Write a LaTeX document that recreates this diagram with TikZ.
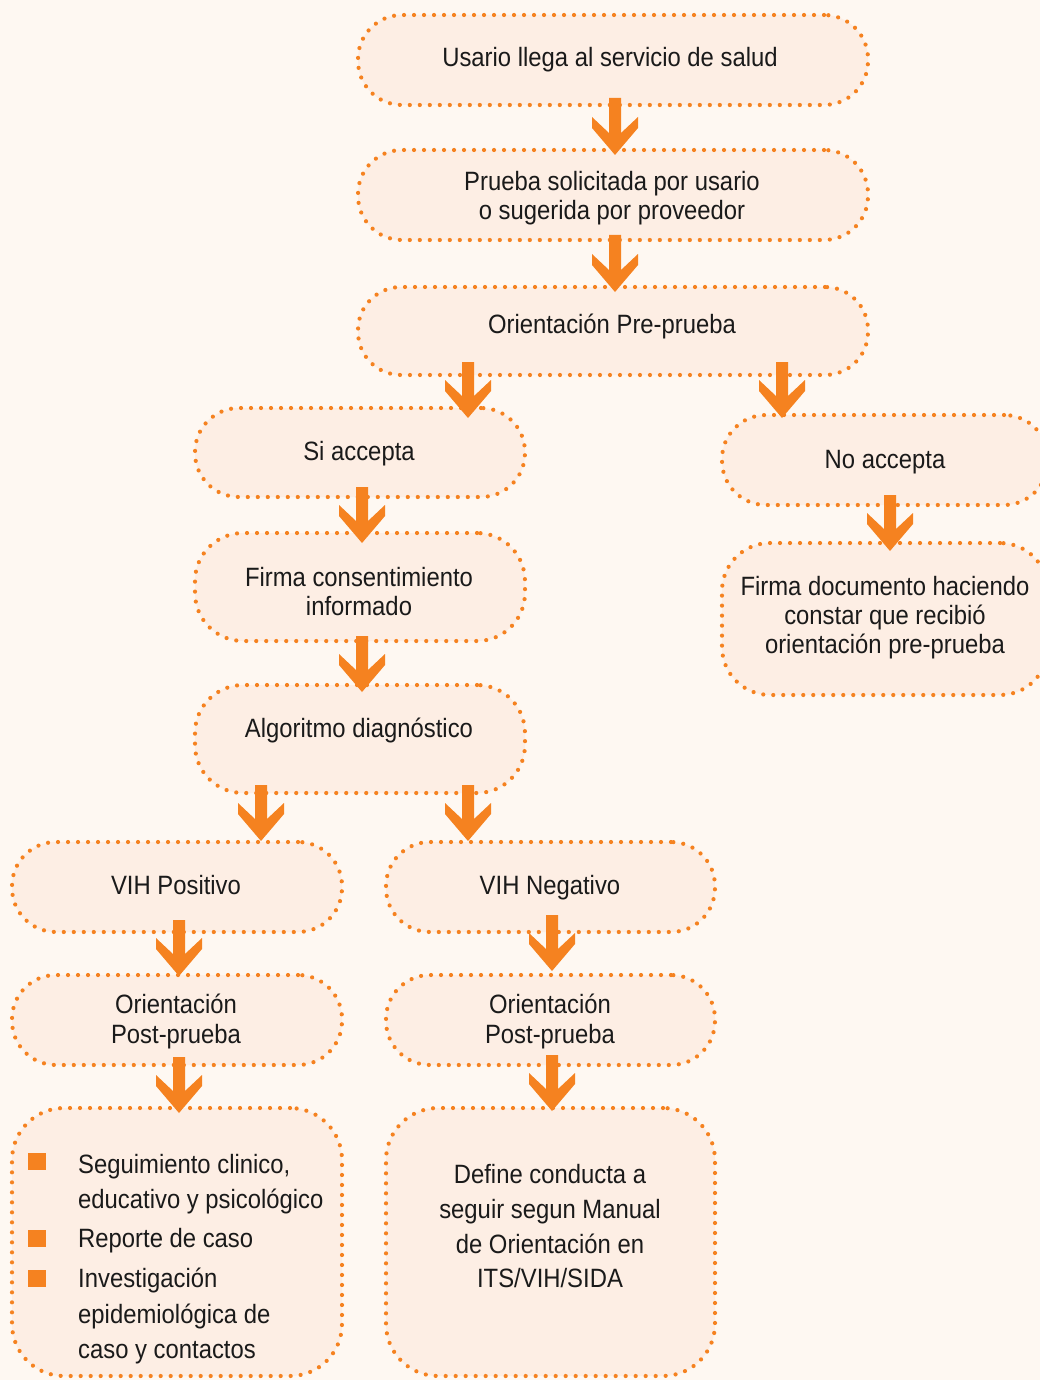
\documentclass[tikz,border=0pt]{standalone}
\usepackage{fontspec}
\setmainfont{Liberation Sans}[FakeStretch=0.9]
\usetikzlibrary{calc}
\definecolor{bg}{RGB}{254,248,242}
\definecolor{boxfill}{RGB}{253,238,228}
\definecolor{orng}{RGB}{245,130,32}
\definecolor{ink}{RGB}{26,26,26}
\begin{document}
\begin{tikzpicture}[x=1pt,y=-1pt,
 box/.style n args={3}{draw=orng, fill=boxfill, line width=4.2pt, dash pattern=on 0pt off 10pt, line cap=round, rounded corners=#3pt, minimum width=#1pt, minimum height=#2pt, inner sep=0pt, outer sep=0pt},
 txt/.style={anchor=base, text=ink, font=\fontsize{26.5}{30}\selectfont, inner sep=0pt},
 blockarrow/.style={fill=orng, draw=none, to path={let \p1=(\tikztostart), \p2=(\tikztotarget) in (\x1-6pt,\y1) -- (\x1+6pt,\y1) -- (\x1+6pt,\y2+22pt) -- (\x1+23pt,\y2+38pt) -- (\x1+23pt,\y2+27pt) -- (\x1,\y2) -- (\x1-23pt,\y2+27pt) -- (\x1-23pt,\y2+38pt) -- (\x1-6pt,\y2+22pt) -- cycle}},
 bulletbox/.style={fill=orng, minimum width=18pt, minimum height=17pt, inner sep=0pt, outer sep=0pt}
]
\useasboundingbox (0,0) rectangle (1040,1380);
\fill[bg] (0,0) rectangle (1040,1380);
\clip (0,0) rectangle (1040,1380);

% boxes
\node[box={510}{90}{44}] (b1) at (613,60) {};
\node[box={510}{90}{44}] (b2) at (613,195) {};
\node[box={510}{88}{43}] (b3) at (613,331) {};
\node[box={330}{89}{44}] (si) at (360,452.5) {};
\node[box={326}{90}{44}] (no) at (885,460) {};
\node[box={330}{108}{48}] (fc) at (360,587) {};
\node[box={326}{152}{48}] (fd) at (885,619) {};
\node[box={330}{108}{48}] (al) at (360,739) {};
\node[box={330}{90}{44}] (vp) at (177,887) {};
\node[box={329}{90}{44}] (vn) at (550.5,887) {};
\node[box={330}{90}{44}] (opl) at (177,1020) {};
\node[box={329}{90}{44}] (opr) at (550.5,1020) {};
\node[box={330}{268}{52}] (li) at (177,1242) {};
\node[box={329}{268}{52}] (de) at (550.5,1242) {};

% texts
\node[txt] (t1) at (610,67) {Usario llega al servicio de salud};
\node[txt] (t2a) at (612,191) {Prueba solicitada por usario};
\node[txt] (t2b) at (612,220) {o sugerida por proveedor};
\node[txt] (t3) at (612,333) {Orientación Pre-prueba};
\node[txt] (tsi) at (359,460) {Si accepta};
\node[txt] (tno) at (885,468) {No accepta};
\node[txt] (tfca) at (359,586) {Firma consentimiento};
\node[txt] (tfcb) at (359,615) {informado};
\node[txt] (tfda) at (885,595) {Firma documento haciendo};
\node[txt] (tfdb) at (885,624) {constar que recibió};
\node[txt] (tfdc) at (885,653) {orientación pre-prueba};
\node[txt] (tal) at (359,737) {Algoritmo diagnóstico};
\node[txt] (tvp) at (176,894) {VIH Positivo};
\node[txt] (tvn) at (550,894) {VIH Negativo};
\node[txt] (topla) at (176,1013) {Orientación};
\node[txt] (toplb) at (176,1043) {Post-prueba};
\node[txt] (topra) at (550,1013) {Orientación};
\node[txt] (toprb) at (550,1043) {Post-prueba};

\node[bulletbox] (bu1) at (37,1161.5) {};
\node[bulletbox] (bu2) at (37,1238) {};
\node[bulletbox] (bu3) at (37,1278) {};
\node[txt, anchor=base west] (l1a) at (78,1173) {Seguimiento clinico,};
\node[txt, anchor=base west] (l1b) at (78,1208) {educativo y psicológico};
\node[txt, anchor=base west] (l2) at (78,1247) {Reporte de caso};
\node[txt, anchor=base west] (l3a) at (78,1287) {Investigación};
\node[txt, anchor=base west] (l3b) at (78,1323) {epidemiológica de};
\node[txt, anchor=base west] (l3c) at (78,1358) {caso y contactos};

\node[txt] (tda) at (550,1183) {Define conducta a};
\node[txt] (tdb) at (550,1218) {seguir segun Manual};
\node[txt] (tdc) at (550,1253) {de Orientación en};
\node[txt] (tdd) at (550,1287) {ITS/VIH/SIDA};

% arrows
\path[blockarrow] ([xshift=2pt,yshift=7pt]b1.south) to ([yshift=-5pt]b2.north);
\path[blockarrow] ([xshift=2pt,yshift=5pt]b2.south) to ([yshift=-5pt]b3.north);
\path[blockarrow] ([xshift=-145pt,yshift=13pt]b3.south) to ([yshift=-10pt]si.north);
\path[blockarrow] ([xshift=169pt,yshift=13pt]b3.south) to ([yshift=-3pt]no.north);
\path[blockarrow] ([xshift=2pt,yshift=10pt]si.south) to ([yshift=-10pt]fc.north);
\path[blockarrow] ([xshift=2pt,yshift=5pt]fc.south) to ([yshift=-7pt]al.north);
\path[blockarrow] ([xshift=-99pt,yshift=8pt]al.south) to ([yshift=1pt]vp.north);
\path[blockarrow] ([xshift=108pt,yshift=8pt]al.south) to ([yshift=1pt]vn.north);
\path[blockarrow] ([xshift=2pt,yshift=12pt]vp.south) to ([yshift=-1pt]opl.north);
\path[blockarrow] ([xshift=1.5pt,yshift=17pt]vn.south) to ([yshift=4pt]opr.north);
\path[blockarrow] ([xshift=2pt,yshift=8pt]opl.south) to ([yshift=-5pt]li.north);
\path[blockarrow] ([xshift=1.5pt,yshift=10pt]opr.south) to ([yshift=-3pt]de.north);
\path[blockarrow] ([xshift=5pt,yshift=10pt]no.south) to ([yshift=-8pt]fd.north);
\end{tikzpicture}
\end{document}
